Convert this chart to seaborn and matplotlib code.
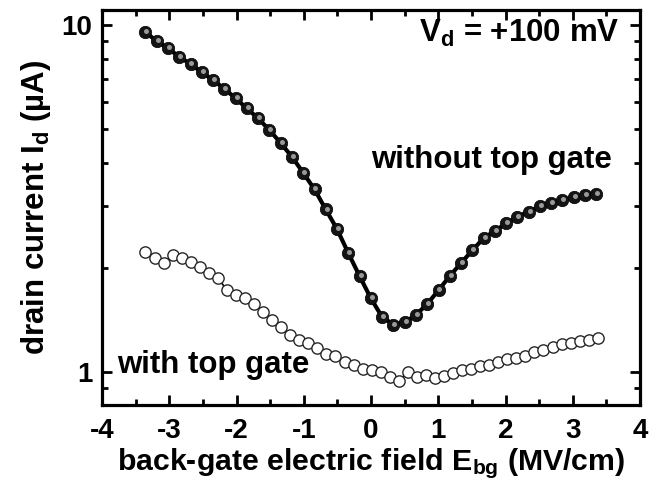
import numpy as np
import pandas as pd
import matplotlib
matplotlib.use("Agg")
import matplotlib.pyplot as plt
import matplotlib.transforms as mtransforms
from matplotlib.ticker import FixedLocator, FixedFormatter, MultipleLocator, LogLocator, NullFormatter
import seaborn as sns

# Back-gate field (MV/cm) and drain current (uA), device without top gate
field_without = [-3.354, -3.186, -3.019, -2.851, -2.684, -2.516, -2.348, -2.181, -2.013, -1.846,
                 -1.678, -1.510, -1.343, -1.175, -1.008, -0.840, -0.672, -0.505, -0.337, -0.170,
                 -0.002, 0.166, 0.333, 0.501, 0.668, 0.836, 1.004, 1.171, 1.339, 1.506,
                 1.674, 1.842, 2.009, 2.177, 2.344, 2.512, 2.680, 2.847, 3.015, 3.182, 3.350]
current_without = [9.53, 8.99, 8.57, 8.10, 7.72, 7.31, 6.94, 6.55, 6.15, 5.75,
                   5.38, 4.98, 4.57, 4.17, 3.75, 3.36, 2.94, 2.58, 2.20, 1.89,
                   1.63, 1.44, 1.37, 1.39, 1.46, 1.57, 1.72, 1.89, 2.06, 2.24,
                   2.43, 2.55, 2.68, 2.80, 2.90, 3.00, 3.06, 3.13, 3.19, 3.24, 3.26]

# Same device after adding the top gate
field_with = [-3.354, -3.219, -3.085, -2.950, -2.816, -2.681, -2.547, -2.412, -2.278, -2.143,
              -2.009, -1.874, -1.740, -1.605, -1.470, -1.336, -1.201, -1.067, -0.932, -0.798,
              -0.663, -0.529, -0.394, -0.260, -0.125, 0.009, 0.144, 0.278, 0.413, 0.547,
              0.682, 0.816, 0.951, 1.085, 1.220, 1.355, 1.489, 1.624, 1.758, 1.893,
              2.027, 2.162, 2.296, 2.431, 2.565, 2.700, 2.834, 2.969, 3.103, 3.238, 3.372]
current_with = [2.22, 2.13, 2.06, 2.17, 2.13, 2.08, 2.01, 1.93, 1.87, 1.72,
                1.67, 1.63, 1.57, 1.49, 1.41, 1.35, 1.28, 1.24, 1.21, 1.17,
                1.13, 1.11, 1.07, 1.05, 1.02, 1.01, 1.00, 0.964, 0.942, 1.00,
                0.964, 0.980, 0.959, 0.974, 0.993, 1.01, 1.02, 1.04, 1.05, 1.07,
                1.09, 1.10, 1.11, 1.14, 1.16, 1.18, 1.20, 1.21, 1.23, 1.24, 1.25]

x_ticks = [-4, -3, -2, -1, 0, 1, 2, 3, 4]
x_tick_labels = ["-4", "-3", "-2", "-1", "0", "1", "2", "3", "4"]
y_ticks = [1, 10]
y_tick_labels = ["1", "10"]

sns.set_theme(style="ticks")
plt.rcParams["font.family"] = ["Liberation Sans", "DejaVu Sans"]
plt.rcParams["font.weight"] = "bold"
plt.rcParams["mathtext.default"] = "regular"
plt.rcParams["text.color"] = "black"
plt.rcParams["axes.labelcolor"] = "black"
plt.rcParams["xtick.color"] = "black"
plt.rcParams["ytick.color"] = "black"

FS_TICK = 20
FS_TEXT = 22.5
FS_XLABEL = 21.8

fig = plt.figure(figsize=(6.5, 4.91), dpi=100)
ax = fig.add_axes([102 / 650, 1 - 405 / 491, (640 - 102) / 650, (405 - 10) / 491])
ax.set_yscale("log")

df_without = pd.DataFrame({"E": field_without, "I": current_without})
df_with = pd.DataFrame({"E": field_with, "I": current_with})

# open circles, with the trace running beneath them
sns.lineplot(data=df_with, x="E", y="I", color="black", lw=1.2, ax=ax, zorder=2)
sns.scatterplot(data=df_with, x="E", y="I", color="white", s=66, edgecolor="#262626",
                linewidth=1.0, ax=ax, zorder=3)

# solid trace with shaded ball markers
sns.lineplot(data=df_without, x="E", y="I", color="black", lw=3.0, ax=ax, zorder=4)
sns.scatterplot(data=df_without, x="E", y="I", color="#141414", s=80, edgecolor="black",
                linewidth=0.5, ax=ax, zorder=5)
shine = mtransforms.offset_copy(ax.transData, fig=fig, x=0.7, y=0.7, units="points")
sns.scatterplot(data=df_without, x="E", y="I", color="#999999", s=13, linewidth=0,
                ax=ax, zorder=6, transform=shine)

ax.set_xlim(-4, 4)
ax.set_ylim(0.803, 11.05)

ax.xaxis.set_major_locator(FixedLocator(x_ticks))
ax.xaxis.set_major_formatter(FixedFormatter(x_tick_labels))
ax.xaxis.set_minor_locator(MultipleLocator(0.5))
ax.yaxis.set_major_locator(FixedLocator(y_ticks))
ax.yaxis.set_major_formatter(FixedFormatter(y_tick_labels))
ax.yaxis.set_minor_locator(LogLocator(base=10, subs=np.arange(2, 10) / 1.0, numticks=20))
ax.yaxis.set_minor_formatter(NullFormatter())

ax.tick_params(which="both", direction="in", top=True, right=True, width=2.0,
               color="black", labelsize=FS_TICK, labelcolor="black")
ax.tick_params(axis="x", which="both", pad=9)
ax.tick_params(axis="y", which="both", pad=7)
ax.tick_params(which="major", length=7)
ax.tick_params(which="minor", length=4.5)
for sp in ax.spines.values():
    sp.set_linewidth(2.3)
    sp.set_color("black")
for lab in ax.get_xticklabels() + ax.get_yticklabels():
    lab.set_fontweight("bold")

ax.set_xlabel("back-gate electric field E$_{bg}$ (MV/cm)", fontsize=FS_XLABEL, fontweight="bold",
              labelpad=2)
ax.set_ylabel("drain current I$_d$ (µA)", fontsize=FS_TEXT, fontweight="bold", labelpad=6)

ax.text(-3.78, 0.99, "with top gate", fontsize=FS_TEXT, fontweight="bold",
        ha="left", va="baseline")
ax.text(0.0, 3.87, "without top gate", fontsize=FS_TEXT, fontweight="bold",
        ha="left", va="baseline")
ax.text(3.7, 8.93, "V$_d$ = +100 mV", fontsize=FS_TEXT, fontweight="bold",
        ha="right", va="baseline")

fig.savefig("out.png", dpi=100)
